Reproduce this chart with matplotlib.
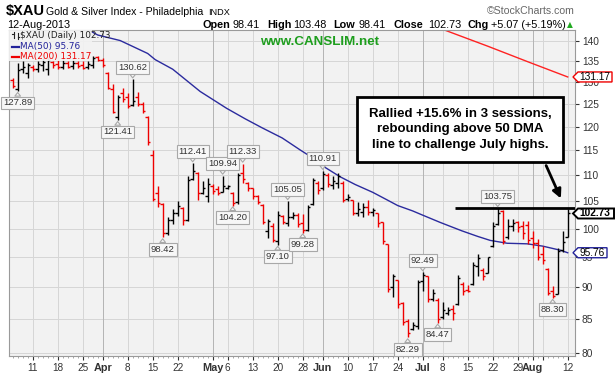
import matplotlib
matplotlib.use("Agg")
import matplotlib.pyplot as plt
import numpy as np
import pandas as pd
from matplotlib.patches import Polygon, Rectangle, FancyArrowPatch
from matplotlib.ticker import NullLocator, NullFormatter

plt.rcParams["font.family"] = ["Liberation Sans", "DejaVu Sans"]

# ----------------------------------------------------------------------
# Datos
# ----------------------------------------------------------------------
holidays = ["2013-03-29", "2013-05-27", "2013-07-04"]
dates = pd.bdate_range("2013-03-05", "2013-08-12").drop(pd.to_datetime(holidays))

opens = [130.4, 128.3, 133.0, 132.0, 133.6, 133.0, 134.0, 133.0, 134.8, 134.2,
         133.5, 134.4, 133.8, 134.5, 134.0, 133.5, 134.0, 135.9, 135.3, 132.0,
         128.3, 122.0, 127.5, 126.5, 124.8, 126.5, 125.0, 122.0, 114.0, 106.5,
         104.5, 99.2, 101.5, 102.8, 103.8, 101.6, 109.3, 110.4, 106.6, 106.0,
         108.0, 107.3, 106.8, 107.6, 106.5, 104.8, 110.5, 108.5, 107.5, 106.0,
         104.3, 99.5, 100.5, 97.8, 102.3, 101.0, 102.0, 102.5, 101.0, 99.8,
         104.5, 108.5, 107.5, 110.0, 108.2, 108.5, 108.5, 105.5, 105.3, 102.8,
         103.0, 104.0, 103.0, 102.8, 101.1, 97.3, 90.0, 91.2, 87.5, 84.8,
         83.6, 84.0, 91.0, 91.8, 88.2, 88.0, 85.3, 86.0, 86.6, 87.3,
         90.5, 89.6, 90.6, 93.5, 92.9, 92.4, 97.0, 100.8, 103.2, 98.5,
         100.4, 101.2, 100.5, 100.6, 98.3, 97.4, 95.5, 93.0, 89.5, 89.0,
         96.3, 98.41]
highs = [130.9, 134.4, 135.0, 134.5, 134.0, 135.0, 135.6, 135.8, 135.0, 135.2,
         135.5, 135.0, 135.4, 135.0, 134.9, 135.0, 136.1, 136.1, 135.8, 132.3,
         129.6, 127.05, 128.6, 127.4, 130.62, 127.6, 125.5, 122.3, 115.0, 108.0,
         104.7, 102.0, 103.6, 105.0, 104.0, 109.8, 112.41, 110.56, 108.8, 109.5,
         108.3, 107.9, 109.94, 108.2, 106.7, 110.4, 112.33, 108.6, 107.6, 106.1,
         104.4, 101.8, 101.0, 103.1, 102.5, 105.05, 103.0, 102.8, 102.6, 104.3,
         109.5, 108.8, 110.91, 110.4, 109.8, 110.4, 108.8, 106.4, 105.3, 104.9,
         104.6, 105.2, 103.7, 102.8, 101.1, 97.3, 92.2, 91.2, 87.7, 85.1,
         84.6, 91.2, 92.49, 91.9, 89.8, 88.3, 87.7, 86.9, 87.2, 92.0,
         90.9, 90.4, 94.2, 95.5, 93.2, 95.1, 101.1, 103.75, 103.4, 101.7,
         101.7, 101.4, 101.4, 101.4, 99.6, 98.2, 97.0, 93.1, 90.3, 96.5,
         99.6, 103.48]
lows = [128.7, 127.89, 132.0, 130.9, 132.6, 132.3, 132.5, 131.7, 133.3, 133.0,
        133.0, 133.2, 133.1, 133.3, 133.0, 133.0, 133.4, 134.9, 133.6, 128.3,
        122.95, 121.41, 125.5, 124.0, 124.6, 124.6, 122.9, 116.2, 104.96, 104.0,
        98.42, 98.8, 100.8, 102.2, 100.6, 101.4, 109.0, 105.3, 106.3, 104.9,
        106.4, 106.1, 106.7, 107.3, 104.20, 104.4, 108.5, 107.0, 105.5, 104.4,
        100.8, 98.4, 97.6, 97.10, 100.8, 100.5, 101.7, 100.2, 99.28, 99.6,
        104.3, 106.4, 107.2, 107.8, 107.3, 107.6, 104.9, 105.1, 102.5, 102.2,
        102.0, 102.5, 102.2, 100.2, 97.3, 89.3, 88.5, 86.7, 84.1, 82.29,
        83.4, 83.6, 89.4, 87.6, 87.9, 84.47, 85.1, 85.6, 84.9, 87.2,
        88.8, 89.3, 90.4, 91.9, 91.2, 92.3, 96.8, 100.6, 97.3, 98.2,
        99.6, 99.4, 98.2, 97.3, 96.5, 94.5, 93.9, 88.8, 88.30, 88.9,
        95.9, 98.41]
closes = [129.0, 132.8, 133.5, 134.0, 133.0, 134.3, 134.8, 135.1, 134.0, 133.5,
          134.5, 133.6, 134.6, 133.8, 133.4, 134.2, 135.8, 135.2, 134.0, 128.6,
          123.3, 126.6, 126.0, 124.6, 125.6, 125.0, 123.4, 116.8, 105.5, 104.6,
          99.2, 101.5, 102.8, 104.2, 101.6, 109.0, 110.8, 106.5, 107.5, 108.3,
          107.0, 106.6, 107.9, 108.0, 104.6, 110.0, 109.2, 107.6, 106.0, 104.8,
          101.2, 101.4, 98.0, 102.5, 101.2, 102.0, 102.5, 100.9, 99.7, 104.0,
          109.0, 107.2, 110.2, 108.3, 108.9, 109.8, 105.3, 105.9, 102.9, 103.6,
          103.9, 103.0, 103.4, 101.0, 97.8, 89.8, 91.8, 87.3, 84.6, 82.9,
          84.2, 90.8, 92.0, 88.2, 89.1, 85.1, 86.4, 86.5, 86.0, 91.5,
          89.5, 89.4, 93.6, 94.8, 91.8, 95.0, 100.5, 102.8, 97.8, 100.5,
          101.0, 100.3, 99.2, 98.0, 97.4, 95.0, 94.5, 89.1, 88.7, 96.0,
          97.66, 102.73]

# medias móviles (índice de sesión, valor)
ma50_idx = [14, 17, 21.5, 27, 28.5, 32, 37.5, 42.8, 46.5, 49.8, 53.9, 57.5, 59.8,
            62.1, 65.5, 68.5, 72, 75, 77, 80, 81.8, 85.5, 89.8, 93, 95.5, 98.9,
            102.9, 106, 109.5, 111]
ma50_val = [143.5, 141.4, 140.0, 136.8, 135.3, 133.0, 127.8, 124.0, 121.7, 119.8,
            117.6, 115.1, 113.6, 111.8, 109.7, 108.2, 106.7, 105.2, 104.2, 103.2,
            102.5, 101.1, 99.6, 98.6, 97.9, 97.4, 97.3, 96.9, 96.2, 95.76]
ma200_idx = [84, 95, 103, 111]
ma200_val = [143.8, 138.6, 134.8, 131.17]

# etiquetas de máximos y mínimos
hi_idx = [24, 36, 42, 46, 55, 62, 82, 97]
hi_val = [130.62, 112.41, 109.94, 112.33, 105.05, 110.91, 92.49, 103.75]
lo_idx = [1, 21, 30, 44, 53, 58, 79, 85, 108]
lo_val = [127.89, 121.41, 98.42, 104.20, 97.10, 99.28, 82.29, 84.47, 88.30]

tick_dates = ["2013-03-11", "2013-03-18", "2013-03-25", "2013-04-01", "2013-04-08",
              "2013-04-15", "2013-04-22", "2013-05-01", "2013-05-06", "2013-05-13",
              "2013-05-20", "2013-05-28", "2013-06-03", "2013-06-10", "2013-06-17",
              "2013-06-24", "2013-07-01", "2013-07-08", "2013-07-15", "2013-07-22",
              "2013-07-29", "2013-08-01", "2013-08-05", "2013-08-12"]
tick_labels = ["11", "18", "25", "Apr", "8", "15", "22", "May", "6", "13", "20", "28",
               "Jun", "10", "17", "24", "Jul", "8", "15", "22", "29", "Aug", "", "12"]
month_labels = {"Apr", "May", "Jun", "Jul", "Aug"}

last_close = 102.73
ma50_last = 95.76
ma200_last = 131.17
resistance = 103.75

# ----------------------------------------------------------------------
# Figura
# ----------------------------------------------------------------------
W, H = 616, 377


def fx(px):
    return px / W


def fy(py):
    return 1 - py / H


fig = plt.figure(figsize=(W / 100, H / 100), dpi=100)
fig.patch.set_facecolor("white")
ax = fig.add_axes([fx(9), fy(356), fx(575) - fx(9), fy(29.5) - fy(356)])
ax.set_facecolor("#f2f2f2")
ax.set_yscale("log")
ax.set_ylim(79.6, 142.8)
ax.set_xlim(-0.74, 112.46)

n = len(closes)
assert len(dates) == n
x = np.arange(n)
prev = [opens[0]] + closes[:-1]
colors = ["black" if c >= p else "#ee0000" for c, p in zip(closes, prev)]

# rejilla
yt = list(range(80, 145, 5))
for v in yt:
    ax.axhline(v, color="#d6d6d6", lw=0.7, zorder=0)
tick_pos = [dates.get_loc(pd.Timestamp(d)) for d in tick_dates]
for p, lab in zip(tick_pos, tick_labels):
    c = "#b4b4b4" if lab in month_labels else "#d6d6d6"
    ax.axvline(p, color=c, lw=0.7, zorder=0)

# barras OHLC
ax.vlines(x, lows, highs, colors=colors, lw=1.0, zorder=3)
ax.hlines(opens, x - 0.5, x, colors=colors, lw=1.0, zorder=3)
ax.hlines(closes, x, x + 0.5, colors=colors, lw=1.0, zorder=3)

# medias móviles
ax.plot(ma50_idx, ma50_val, color="#2b2b9e", lw=1.0, zorder=2)
ax.plot(ma200_idx, ma200_val, color="#ff2222", lw=1.0, zorder=2)

# resistencia
ax.hlines(resistance, 88.5, 112.46, color="black", lw=2.0, zorder=4)

# etiquetas de precios
bubble = dict(boxstyle="square,pad=0.2", fc="#f7f7f7", ec="#a8a8a8", lw=0.8)
wedge = dict(arrowstyle="wedge,tail_width=0.6,shrink_factor=0.5",
             fc="#f7f7f7", ec="#a8a8a8", lw=0.8, shrinkA=0, shrinkB=1)
for i, v in zip(hi_idx, hi_val):
    ax.annotate(f"{v:.2f}", xy=(i, v), xytext=(0, 8.5), textcoords="offset points",
                ha="center", va="center", fontsize=6.8, color="#333333",
                bbox=bubble, arrowprops=wedge, zorder=5, annotation_clip=False)
for i, v in zip(lo_idx, lo_val):
    ax.annotate(f"{v:.2f}", xy=(i, v), xytext=(0, -8.5), textcoords="offset points",
                ha="center", va="center", fontsize=6.8, color="#333333",
                bbox=bubble, arrowprops=wedge, zorder=5, annotation_clip=False)

# fondo de la leyenda interior (tapa la parte alta de las barras)
ax.add_patch(Rectangle((fx(9), fy(61)), fx(92) - fx(9), fy(29.5) - fy(61),
                       transform=fig.transFigure, fc="#f2f2f2", ec="none",
                       alpha=0.92, zorder=4))

# ejes
ax.yaxis.tick_right()
ax.set_yticks(yt)
ax.set_yticklabels([str(v) for v in yt])
ax.yaxis.set_minor_locator(NullLocator())
ax.yaxis.set_minor_formatter(NullFormatter())
ax.tick_params(axis="y", which="major", length=3, pad=2, labelsize=7.3,
               colors="#333333", direction="out")
ax.set_xticks(tick_pos)
ax.set_xticklabels(tick_labels)
for lbl, lab in zip(ax.get_xticklabels(), tick_labels):
    if lab in month_labels:
        lbl.set_fontweight("bold")
        lbl.set_fontsize(7.8)
    else:
        lbl.set_fontsize(7.2)
ax.set_xticks(x, minor=True)
ax.tick_params(axis="x", which="major", length=3, pad=2, colors="#333333")
ax.tick_params(axis="x", which="minor", length=1.5, color="#999999")
for s in ax.spines.values():
    s.set_color("#9a9a9a")
    s.set_linewidth(0.8)

# leyenda interior
fig.text(fx(20), fy(35.5), "$XAU (Daily) 102.73", fontsize=6.4, family="DejaVu Sans",
         va="center", color="#222222")
fig.text(fx(20), fy(46.5), "MA(50) 95.76", fontsize=6.4, family="DejaVu Sans",
         va="center", color="#22229a")
fig.text(fx(20), fy(57), "MA(200) 131.17", fontsize=6.4, family="DejaVu Sans",
         va="center", color="#ee0000")
fig.add_artist(plt.Line2D([fx(12), fx(19)], [fy(46.5), fy(46.5)], color="#22229a", lw=1.6))
fig.add_artist(plt.Line2D([fx(12), fx(19)], [fy(57), fy(57)], color="#ee0000", lw=1.6))
for bx, top, bot in [(13.5, 32, 38), (17.5, 33, 39)]:
    fig.add_artist(plt.Line2D([fx(bx), fx(bx)], [fy(top), fy(bot)], color="#222222", lw=0.8))
fig.add_artist(plt.Line2D([fx(12), fx(13.5)], [fy(34), fy(34)], color="#222222", lw=0.8))
fig.add_artist(plt.Line2D([fx(17.5), fx(19)], [fy(37), fy(37)], color="#222222", lw=0.8))

fig.text(fx(320), fy(42), "www.CANSLIM.net", fontsize=9.6, fontweight="bold",
         color="#1e9e1e", ha="center", va="center")

# encabezado
fig.text(fx(6), fy(11.5), "$XAU", fontsize=10.5, fontweight="bold", va="center")
fig.text(fx(46), fy(12), "Gold & Silver Index - Philadelphia", fontsize=7.6, va="center")
fig.text(fx(208), fy(12.5), "INDX", fontsize=6.6, va="center")
fig.text(fx(575), fy(11.5), "\u00a9StockCharts.com", fontsize=7.6, va="center",
         ha="right", color="#666666")
fig.text(fx(7), fy(25), "12-Aug-2013", fontsize=7.8, va="center")
row = [(202, "Open", True), (233, "98.41", False), (267, "High", True),
       (293, "103.48", False), (333, "Low", True), (358, "98.41", False),
       (393, "Close", True), (428, "102.73", False), (467, "Chg", True),
       (491, "+5.07 (+5.19%)", False)]
for px, txt, bold in row:
    fig.text(fx(px), fy(25), txt, fontsize=7.8, va="center",
             fontweight="bold" if bold else "normal")
fig.text(fx(567), fy(25), "\u25b2", fontsize=5.5, va="center", color="#22aa22",
         family="DejaVu Sans")

# marcas de precio a la derecha
fig.canvas.draw()


def tag(price, text, ec, lw, bold, right):
    py = ax.transData.transform((0, price))[1] / fig.dpi * 100
    ypx = H - py
    x0 = 573
    pts = [(x0, ypx), (x0 + 5, ypx - 5), (right, ypx - 5), (right, ypx + 5), (x0 + 5, ypx + 5)]
    poly = Polygon([(fx(a), fy(b)) for a, b in pts], closed=True, fc="white", ec=ec,
                   lw=lw, transform=fig.transFigure, zorder=6)
    fig.add_artist(poly)
    fig.text(fx(x0 + 6.5), fy(ypx), text, fontsize=7.3, va="center",
             fontweight="bold" if bold else "normal", zorder=7)


tag(ma200_last, "131.17", "#ee0000", 1.0, False, 612)
tag(last_close, "102.73", "black", 1.4, True, 614)
tag(ma50_last, "95.76", "#22229a", 1.0, False, 607)

# cuadro de comentario
fig.add_artist(Rectangle((fx(357), fy(162)), fx(563) - fx(357), fy(97) - fy(162),
                         transform=fig.transFigure, fc="white", ec="black", lw=2.0,
                         zorder=6))
fig.text(fx(460), fy(129.5),
         "Rallied +15.6% in 3 sessions,\nrebounding above 50 DMA\nline to challenge July highs.",
         fontsize=9.5, fontweight="bold", ha="center", va="center", linespacing=1.35,
         zorder=7)
fig.add_artist(FancyArrowPatch((fx(545), fy(163)), (fx(562), fy(201)),
                               transform=fig.transFigure, arrowstyle="-|>",
                               mutation_scale=13, lw=2.0, color="black", zorder=6))

fig.savefig("out.png", dpi=100)
